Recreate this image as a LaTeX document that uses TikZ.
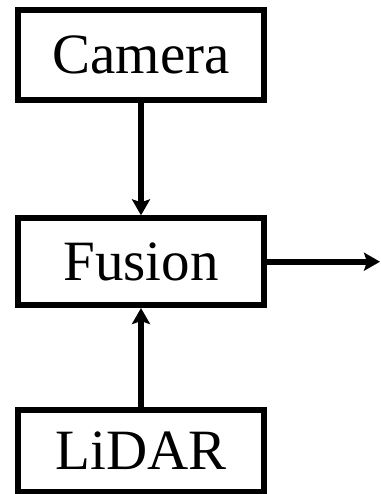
\documentclass[tikz,border=0pt]{standalone}
\usepackage{fontspec}
\setmainfont{Liberation Serif}
\usetikzlibrary{arrows.meta}
\begin{document}
\begin{tikzpicture}[x=1pt,y=-1pt,
  blk/.style={draw=black, line width=6pt, minimum width=246pt, inner sep=0pt,
    font=\fontsize{57}{60}\selectfont},
  conn/.style={line width=6pt, -{Stealth[length=16pt,width=18pt,inset=3pt]}}]
\useasboundingbox (0,0) rectangle (380,494);
\node[blk, minimum height=89.5pt] (cam) at (141,55.25) {Camera};
\node[blk, minimum height=86.7pt] (fus) at (141,261.7) {Fusion};
\node[blk, minimum height=82pt] (lid) at (141,450.5) {LiDAR};
\coordinate (out) at (380,261.7);
\draw[conn] (cam) -- (fus);
\draw[conn] (lid) -- (fus);
\draw[conn] (fus.east) -- (out);
\end{tikzpicture}
\end{document}
